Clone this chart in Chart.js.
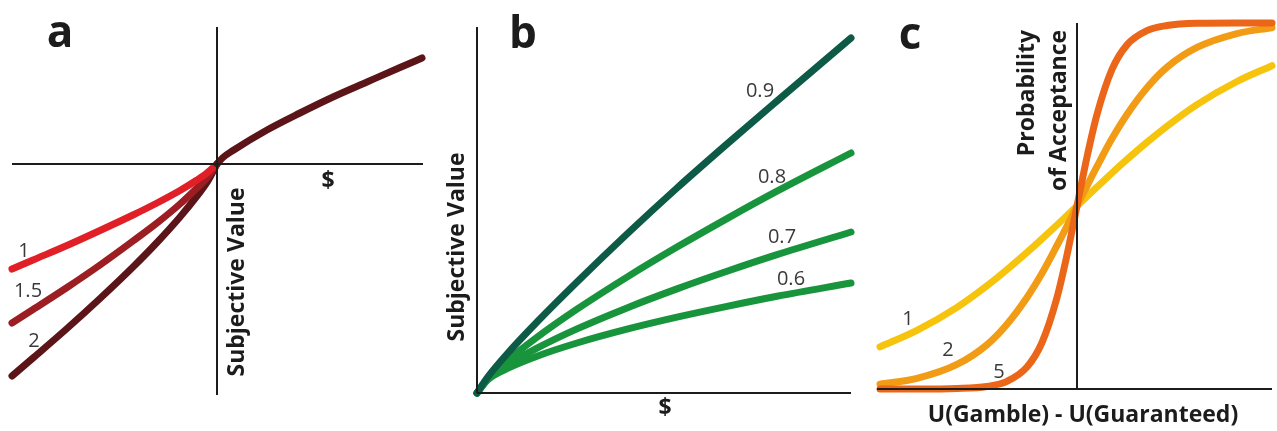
<!DOCTYPE html>
<html>
<head>
<meta charset="utf-8">
<script src="https://cdn.jsdelivr.net/npm/chart.js@4.4.0/dist/chart.umd.min.js"></script>
<style>
  body { margin: 0; background: #fff; }
  #wrap { position: relative; width: 1277px; height: 431px; overflow: hidden; }
  canvas { position: absolute; top: 0; }
</style>
</head>
<body>
<div id="wrap">
  <canvas id="panelA" width="440" height="431" style="left:0px"></canvas>
  <canvas id="panelB" width="420" height="431" style="left:440px"></canvas>
  <canvas id="panelC" width="417" height="431" style="left:860px"></canvas>
</div>
<script>
// Panel a: value function, gains side is shared, losses for three lambdas
const gainX = [0, 0.06, 0.16, 0.5, 0.83, 1.16, 1.5, 1.83, 2.05];
const gainY = [0, 0.065, 0.135, 0.34, 0.51, 0.67, 0.82, 0.965, 1.06];
const lossX = [-2.05, -1.84, -1.5, -1.17, -0.84, -0.6, -0.37, -0.2, -0.1, 0];
const lossY1 = [-1.05, -0.96, -0.815, -0.665, -0.51, -0.39, -0.265, -0.16, -0.09, 0];
const lossY15 = [-1.59, -1.455, -1.235, -1.01, -0.77, -0.59, -0.40, -0.24, -0.14, 0];
const lossY2 = [-2.12, -1.94, -1.645, -1.345, -1.03, -0.785, -0.53, -0.32, -0.185, 0];
const lossLabels = ["1", "1.5", "2"];

// Panel b: curvature of the utility function
const bX = [0, 0.1, 0.3, 0.6, 1.0, 1.5, 2.0, 2.5, 3.0, 3.74];
const b09 = [0, 0.15, 0.39, 0.71, 1.11, 1.59, 2.05, 2.49, 2.92, 3.55];
const b08 = [0, 0.133, 0.32, 0.557, 0.838, 1.159, 1.459, 1.744, 2.018, 2.40];
const b07 = [0, 0.128, 0.276, 0.448, 0.641, 0.851, 1.041, 1.217, 1.383, 1.61];
const b06 = [0, 0.126, 0.243, 0.368, 0.50, 0.638, 0.758, 0.866, 0.967, 1.10];
const bLabels = ["0.9", "0.8", "0.7", "0.6"];

// Panel c: probability of accepting the gamble for three sensitivities
const cX = [-1.97, -1.6, -1.2, -0.9, -0.7, -0.5, -0.35, -0.2, -0.1, 0, 0.1, 0.2, 0.35, 0.5, 0.7, 0.9, 1.2, 1.6, 1.95];
const c1 = [0.115, 0.16, 0.223, 0.282, 0.326, 0.373, 0.41, 0.448, 0.474, 0.5, 0.526, 0.552, 0.59, 0.627, 0.674, 0.718, 0.777, 0.84, 0.883];
const c2 = [0.013, 0.029, 0.067, 0.121, 0.177, 0.25, 0.316, 0.392, 0.445, 0.5, 0.555, 0.608, 0.684, 0.75, 0.823, 0.879, 0.933, 0.971, 0.987];
const c5 = [0, 0, 0.0014, 0.007, 0.021, 0.06, 0.127, 0.25, 0.366, 0.5, 0.634, 0.75, 0.873, 0.94, 0.979, 0.993, 0.999, 1.0, 1.0];
const cLabels = ["1", "2", "5"];

const panelLetters = ["a", "b", "c"];
const dollar = "$";
const subjValue = "Subjective Value";
const probTitle = ["Probability", "of Acceptance"];
const diffTitle = "U(Gamble) - U(Guaranteed)";

const BOLD = 'bold 23px "Open Sans"';
const LETTER = 'bold 44px "Open Sans"';
const NUM = '20px "Open Sans"';

function pts(xs, ys) {
  return xs.map((x, i) => ({ x: x, y: ys[i] }));
}

function curve(xs, ys, color) {
  return {
    data: pts(xs, ys),
    borderColor: color,
    borderWidth: 7,
    borderCapStyle: "round",
    borderJoinStyle: "round",
    pointRadius: 0,
    cubicInterpolationMode: "monotone",
    clip: false,
  };
}

// draws the axis cross and all text labels at data positions
const decor = {
  id: "decor",
  afterDatasetsDraw(chart, args, opts) {
    const { ctx, chartArea: a } = chart;
    const sx = chart.scales.x, sy = chart.scales.y;
    ctx.save();
    ctx.strokeStyle = "#1c1c1c";
    ctx.lineWidth = 2;
    const x0 = sx.getPixelForValue(opts.cross[0]);
    const y0 = sy.getPixelForValue(opts.cross[1]);
    ctx.beginPath();
    ctx.moveTo(a.left, y0);
    ctx.lineTo(a.right, y0);
    ctx.moveTo(x0, a.top + (opts.vTop || 0));
    ctx.lineTo(x0, a.bottom);
    ctx.stroke();
    for (const t of opts.texts) {
      ctx.save();
      ctx.translate(sx.getPixelForValue(t.at[0]), sy.getPixelForValue(t.at[1]));
      if (t.rotate) ctx.rotate(-Math.PI / 2);
      ctx.font = t.font;
      ctx.fillStyle = t.color || "#1c1c1c";
      ctx.textAlign = t.align || "center";
      ctx.textBaseline = t.baseline || "middle";
      ctx.fillText(t.text, 0, 0);
      ctx.restore();
    }
    ctx.restore();
  },
};

function makeChart(id, datasets, xr, yr, padding, decorOpts) {
  return new Chart(document.getElementById(id), {
    type: "line",
    data: { datasets: datasets },
    options: {
      responsive: false,
      animation: false,
      devicePixelRatio: 1,
      layout: { padding: padding },
      plugins: { legend: { display: false }, tooltip: { enabled: false }, decor: decorOpts },
      scales: {
        x: { type: "linear", display: false, min: xr[0], max: xr[1] },
        y: { type: "linear", display: false, min: yr[0], max: yr[1] },
      },
    },
    plugins: [decor],
  });
}

const numColor = "#3a3a3a";

makeChart(
  "panelA",
  [
    curve(gainX, gainY, "#5b1519"),
    curve(lossX, lossY1, "#e01f26"),
    curve(lossX, lossY15, "#9c1e22"),
    curve(lossX, lossY2, "#5b1519"),
  ],
  [-2.05, 2.06], [-2.31, 1.37],
  { left: 12, right: 17, top: 27, bottom: 36 },
  {
    cross: [0, 0],
    texts: [
      { text: panelLetters[0], at: [-1.57, 1.17], font: LETTER, baseline: "alphabetic" },
      { text: dollar, at: [1.11, -0.17], font: BOLD },
      { text: subjValue, at: [0.20, -1.18], font: BOLD, rotate: true },
      { text: lossLabels[0], at: [-1.93, -0.87], font: NUM, color: numColor },
      { text: lossLabels[1], at: [-1.89, -1.27], font: NUM, color: numColor },
      { text: lossLabels[2], at: [-1.83, -1.77], font: NUM, color: numColor },
    ],
  }
);

makeChart(
  "panelB",
  [
    curve(bX, b09, "#0d5a47"),
    curve(bX, b08, "#18953c"),
    curve(bX, b07, "#18953c"),
    curve(bX, b06, "#18953c"),
  ],
  [0, 3.74], [0, 3.66],
  { left: 37, right: 9, top: 27, bottom: 38 },
  {
    cross: [0, 0],
    texts: [
      { text: panelLetters[1], at: [0.46, 3.45], font: LETTER, baseline: "alphabetic" },
      { text: bLabels[0], at: [2.83, 3.02], font: NUM, color: numColor },
      { text: bLabels[1], at: [2.95, 2.16], font: NUM, color: numColor },
      { text: bLabels[2], at: [3.05, 1.56], font: NUM, color: numColor },
      { text: bLabels[3], at: [3.14, 1.14], font: NUM, color: numColor },
      { text: dollar, at: [1.88, -0.15], font: BOLD },
      { text: subjValue, at: [-0.20, 1.46], font: BOLD, rotate: true },
    ],
  }
);

makeChart(
  "panelC",
  [
    curve(cX, c5, "#ec6619"),
    curve(cX, c2, "#f29b14"),
    curve(cX, c1, "#f6c40c"),
  ],
  [-2.0, 1.95], [0, 1.008],
  { left: 17, right: 5, top: 20, bottom: 42 },
  {
    cross: [0, 0],
    vTop: 3,
    texts: [
      { text: panelLetters[2], at: [-1.67, 0.929], font: LETTER, baseline: "alphabetic" },
      { text: cLabels[0], at: [-1.69, 0.191], font: NUM, color: numColor },
      { text: cLabels[1], at: [-1.29, 0.107], font: NUM, color: numColor },
      { text: cLabels[2], at: [-0.78, 0.046], font: NUM, color: numColor },
      { text: diffTitle, at: [0.06, -0.071], font: BOLD },
      { text: probTitle[0], at: [-0.50, 0.981], font: BOLD, rotate: true, align: "right" },
      { text: probTitle[1], at: [-0.18, 0.981], font: BOLD, rotate: true, align: "right" },
    ],
  }
);
</script>
</body>
</html>
